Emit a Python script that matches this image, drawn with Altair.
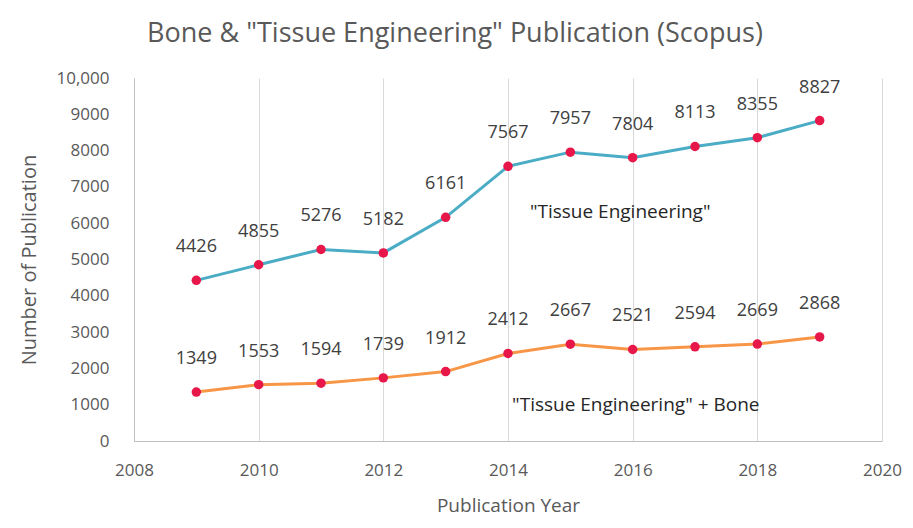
import altair as alt
import pandas as pd

years = [2009, 2010, 2011, 2012, 2013, 2014, 2015, 2016, 2017, 2018, 2019]
tissue = [4426, 4855, 5276, 5182, 6161, 7567, 7957, 7804, 8113, 8355, 8827]
tissue_bone = [1349, 1553, 1594, 1739, 1912, 2412, 2667, 2521, 2594, 2669, 2868]
series_names = ['"Tissue Engineering"', '"Tissue Engineering" + Bone']
note_x = [2015.8, 2016.05]
note_y = [6300, 1000]

rows = []
for name, vals in zip(series_names, [tissue, tissue_bone]):
    for y, v in zip(years, vals):
        rows.append({"year": y, "value": v, "series": name})
df = pd.DataFrame(rows)
notes = pd.DataFrame({"year": note_x, "value": note_y, "label": series_names})

font = "Open Sans"
xs = alt.Scale(domain=[2008, 2020], nice=False, zero=False)
ys = alt.Scale(domain=[0, 10000], nice=False)

X = alt.X("year:Q", scale=xs, title="Publication Year",
          axis=alt.Axis(values=list(range(2008, 2021, 2)), format="d", grid=True,
                        gridColor="#D9D9D9", ticks=False, domainColor="#BFBFBF",
                        labelFlush=False, labelOverlap=False,
                        labelFontSize=17, labelColor="#595959", labelPadding=21,
                        titleFontSize=19, titleColor="#595959", titleFontWeight="normal",
                        titlePadding=18, labelFont=font, titleFont=font))
Y = alt.Y("value:Q", scale=ys, title="Number of Publication",
          axis=alt.Axis(values=list(range(0, 10001, 1000)), grid=False, ticks=False,
                        domainColor="#BFBFBF", labelFlush=False, labelOverlap=False,
                        labelExpr="datum.value >= 10000 ? format(datum.value, ',') : format(datum.value, 'd')",
                        labelFontSize=17, labelColor="#595959", labelPadding=25,
                        titleFontSize=20, titleColor="#595959", titleFontWeight="normal",
                        titlePadding=16, labelFont=font, titleFont=font))

base = alt.Chart(df).encode(x=X, y=Y)
lines = base.mark_line(strokeWidth=3).encode(
    color=alt.Color("series:N", scale=alt.Scale(domain=series_names, range=["#4BACC6", "#F79646"]),
                    legend=None),
)
points = base.mark_circle(size=90, opacity=1, color="#E8174A")
labels = base.mark_text(dy=-33, fontSize=18, color="#404040", font=font).encode(text="value:Q")
note_text = alt.Chart(notes).mark_text(fontSize=19, color="#262626", font=font).encode(
    x=X, y=Y, text="label:N")

chart = alt.layer(lines, points, labels, note_text).properties(
    width=748, height=363,
    title=alt.TitleParams('Bone & "Tissue Engineering" Publication (Scopus)', fontSize=27,
                          color="#595959", fontWeight="normal", font=font, anchor="middle",
                          dx=-53, offset=21),
    autosize=alt.AutoSizeParams(type="none"),
    padding={"left": 126, "top": 70, "right": 23, "bottom": 79},
).configure_view(stroke=None)

chart.save("out.html", embed_options={"renderer": "svg", "actions": False})
